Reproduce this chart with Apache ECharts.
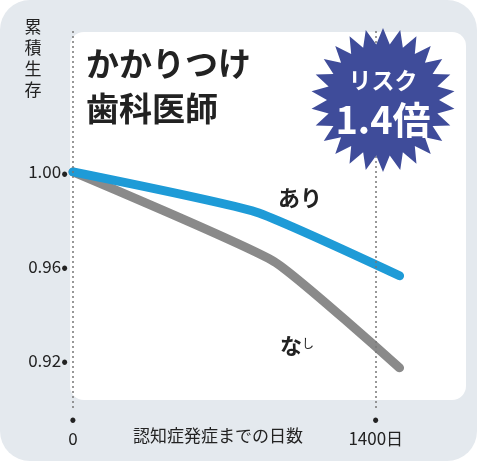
<!DOCTYPE html>
<html>
<head>
<meta charset="utf-8">
<script src="https://cdn.jsdelivr.net/npm/echarts@6/dist/echarts.min.js"></script>
<style>
html,body{margin:0;padding:0;background:#fff;}
#box{width:477px;height:461px;background:#e4e9ee;border-radius:30px;}
#main{width:477px;height:461px;}
</style>
</head>
<body>
<div id="box"><div id="main"></div></div>
<script>
// 日数 / 累積生存
var ariDays = [0, 845, 1510];
var ariVals = [1.0, 0.983, 0.956];
var nashiDays = [0, 930, 1510];
var nashiVals = [1.0, 0.962, 0.917];
var yTickShow = ['1.00', '0.96', '0.92'];
var xTickShow = { 0: '0', 1400: '1400日' };
var xGuide = [0, 1400];

var font = '"Noto Sans CJK JP", "Noto Sans", sans-serif';
var chart = echarts.init(document.getElementById('main'));

// 星形(装飾)
var star = [];
var cx = 383, cy = 100, n = 26;
for (var i = 0; i < n * 2; i++) {
	var r = i % 2 == 0 ? 72 : 56;
	var a = Math.PI * i / n - Math.PI / 2;
	star.push([cx + r * Math.cos(a), cy + r * Math.sin(a)]);
}

function pairs(xs, ys) {
	var d = [];
	for (var i = 0; i < xs.length; i++) d.push([xs[i], ys[i]]);
	return d;
}

chart.setOption({
	animation: false,
	textStyle: { fontFamily: font },
	grid: { left: 73, right: 58, top: 30.25, bottom: 53 },
	xAxis: {
		type: 'value', min: 0, max: 1600, interval: 1400,
		axisLine: { show: false }, axisTick: { show: false }, splitLine: { show: false },
		axisLabel: {
			margin: 0, showMaxLabel: false,
			formatter: function(v) {
				return xTickShow[v] != undefined ? '{d|•}\n{t|' + xTickShow[v] + '}' : '';
			},
			rich: {
				d: { fontSize: 20, lineHeight: 20, color: '#222' },
				t: { fontSize: 17, lineHeight: 22, color: '#222', fontFamily: font }
			}
		}
	},
	yAxis: {
		type: 'value', min: 0.90, max: 1.06, interval: 0.02,
		axisLine: { show: false }, axisTick: { show: false }, splitLine: { show: false },
		axisLabel: {
			margin: 5, color: '#222',
			formatter: function(v) {
				var s = v.toFixed(2);
				return yTickShow.indexOf(s) >= 0 ? '{t|' + s + '}{d|•}' : '';
			},
			rich: {
				t: { fontSize: 17, fontFamily: font, color: '#222' },
				d: { fontSize: 20, color: '#222' }
			}
		}
	},
	graphic: [
		{ type: 'rect', z: -10, shape: { x: 70, y: 32, width: 396, height: 368, r: 14 }, style: { fill: '#fff' } },
		{ type: 'polygon', z: 10, shape: { points: star }, style: { fill: '#3f4c9a' } },
		{ type: 'text', z: 11, x: cx, y: 80, style: { text: 'リスク', fill: '#fff', fontSize: 23, fontWeight: 'bold', fontFamily: font, align: 'center', verticalAlign: 'middle' } },
		{ type: 'text', z: 11, x: cx, y: 120, style: { text: '1.4倍', fill: '#fff', fontSize: 38, fontWeight: 'bold', fontFamily: font, align: 'center', verticalAlign: 'middle' } },
		{ type: 'text', z: 11, x: 86, y: 63, style: { text: 'かかりつけ', fill: '#222', fontSize: 33, fontWeight: 'bold', fontFamily: font, verticalAlign: 'middle' } },
		{ type: 'text', z: 11, x: 86, y: 108, style: { text: '歯科医師', fill: '#222', fontSize: 33, fontWeight: 'bold', fontFamily: font, verticalAlign: 'middle' } },
		{ type: 'text', z: 11, x: 33, y: 58, style: { text: '累\n積\n生\n存', fill: '#222', fontSize: 17, lineHeight: 21, fontFamily: font, align: 'center', verticalAlign: 'middle' } },
		{ type: 'text', z: 11, x: 218, y: 436, style: { text: '認知症発症までの日数', fill: '#222', fontSize: 17, fontFamily: font, align: 'center', verticalAlign: 'middle' } },
		{ type: 'text', z: 11, x: 278, y: 198, style: { text: 'あり', fill: '#222', fontSize: 22, fontWeight: 'bold', fontFamily: font, verticalAlign: 'middle' } },
		{ type: 'text', z: 11, x: 280, y: 346, style: { text: '{a|な}{b|し}', fill: '#222', fontFamily: font, verticalAlign: 'middle',
			rich: { a: { fontSize: 22, fontWeight: 'bold', fontFamily: font }, b: { fontSize: 12, fontFamily: font, padding: [0, 0, 6, 0] } } } }
	],
	series: [
		{
			type: 'line', data: pairs(nashiDays, nashiVals), symbol: 'none', smooth: 0.15,
			lineStyle: { color: '#8a8a8a', width: 9, cap: 'round', join: 'round' },
			markLine: {
				silent: true, symbol: 'none', label: { show: false },
				lineStyle: { type: [2, 3], color: '#777', width: 1.5 },
				data: xGuide.map(function(x) { return { xAxis: x }; })
			}
		},
		{
			type: 'line', data: pairs(ariDays, ariVals), symbol: 'none', smooth: 0.15,
			lineStyle: { color: '#1e9bd7', width: 9, cap: 'round', join: 'round' }
		}
	]
});
</script>
</body>
</html>
